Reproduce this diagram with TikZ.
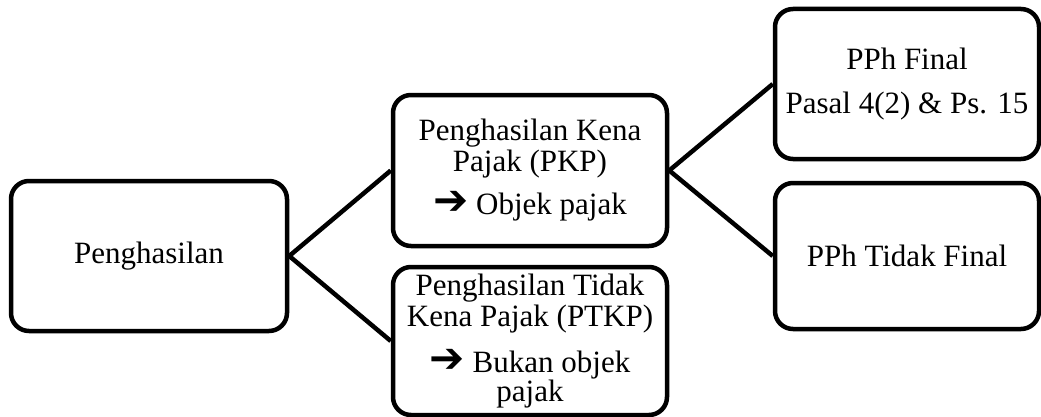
\documentclass[tikz,border=0pt]{standalone}
\usepackage{fontspec}
\setmainfont{Liberation Serif}
\newfontfamily\arrowfont{DejaVu Sans}
\newcommand{\harrow}{\smash{{\arrowfont\bfseries\fontsize{42}{31}\selectfont ➔}}}
\begin{document}
\begin{tikzpicture}[x=1pt,y=1pt,
  box/.style={draw, line width=4.5pt, rounded corners=18pt, align=center, inner sep=0pt, fill=white,
    font=\fontsize{31}{31}\selectfont},
  link/.style={line width=4.5pt}]
\useasboundingbox (0,0) rectangle (1041,416);
\node[box, minimum width=276pt, minimum height=150pt] (b1) at (149,160) {Penghasilan};
\node[box, minimum width=274pt, minimum height=151pt] (b2) at (530,245.5)
  {Penghasilan Kena\\ Pajak (PKP)\\[12pt] \harrow\ Objek pajak};
\node[box, minimum width=274pt, minimum height=148pt] (b3) at (530,75)
  {Penghasilan Tidak\\ Kena Pajak (PTKP)\\[15pt] \harrow\ Bukan objek\\[-2pt] pajak};
\node[box, minimum width=264pt, minimum height=150pt] (b4) at (907,332)
  {PPh Final\\[13pt] Pasal 4(2) \& Ps. 15};
\node[box, minimum width=264pt, minimum height=146pt] (b5) at (907,160) {PPh Tidak Final};
\draw[link] (b1.east) -- (b2.west);
\draw[link] (b1.east) -- (b3.west);
\draw[link] (b2.east) -- (b4.west);
\draw[link] (b2.east) -- (b5.west);
\end{tikzpicture}
\end{document}
